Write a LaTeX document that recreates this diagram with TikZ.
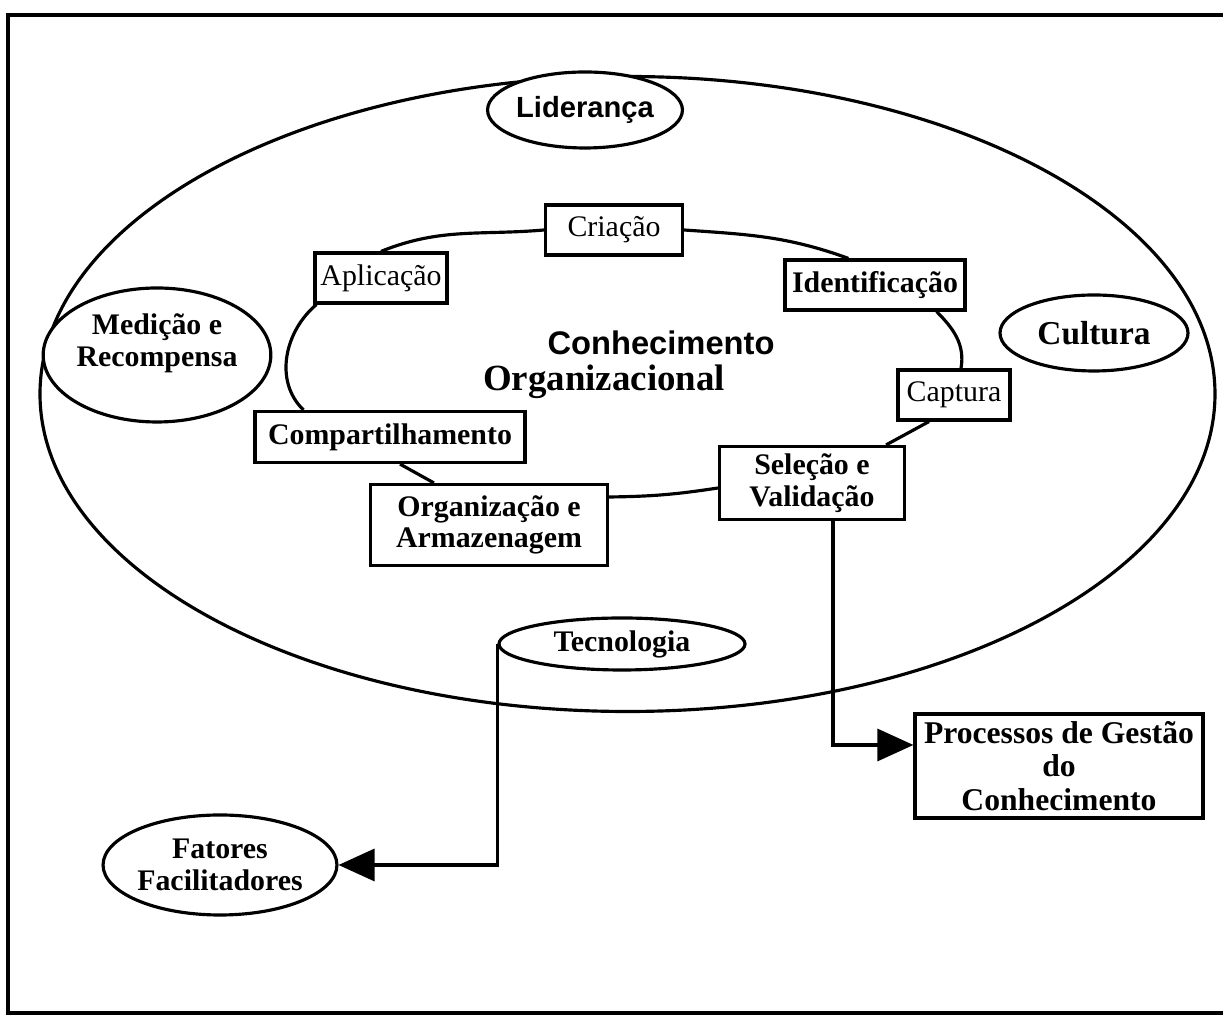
\documentclass[tikz,border=0pt]{standalone}
\usepackage{fontspec}
\setmainfont{Liberation Serif}
\setsansfont{Liberation Sans}
\usetikzlibrary{arrows.meta,shapes.geometric}

\begin{document}
\begin{tikzpicture}[>={Triangle[length=3.6mm,width=3.2mm]},
    linha/.style={line width=0.9pt},
    caixa/.style={draw,line width=0.9pt,fill=white,inner sep=1pt,align=center,
        font=\fontsize{8.5}{9}\selectfont},
    caixan/.style={caixa,font=\fontsize{8.5}{9}\selectfont\bfseries},
    elipse/.style={draw,ellipse,line width=0.9pt,fill=white,inner sep=0pt,align=center,
        font=\fontsize{8.5}{9}\selectfont\bfseries}]
        \useasboundingbox (0,0) rectangle (12.23,10.19);
        % moldura
        \draw[line width=1pt] (12.4,10.04) -- (0.08,10.04) -- (0.08,0.06) -- (12.4,0.06);
        % elipse grande
        \draw[linha] (6.275,6.25) ellipse (5.875 and 3.175);
        % fatores facilitadores
        \node[elipse,font=\fontsize{8.3}{9}\sffamily\bfseries,minimum width=1.92cm,minimum height=0.76cm] (lid) at (5.85,9.09) {Liderança};
        \node[elipse,font=\fontsize{9.5}{10}\selectfont\bfseries,minimum width=1.88cm,minimum height=0.76cm] (cul) at (10.94,6.86) {Cultura};
        \node[elipse,text depth=0.3cm,minimum width=2.26cm,minimum height=1.34cm] (med) at (1.57,6.64) {Medição e\\Recompensa};
        \node[elipse,minimum width=2.46cm,minimum height=0.52cm] (tec) at (6.22,3.75) {Tecnologia};
        \node[elipse,minimum width=2.30cm,minimum height=1.00cm] (fat) at (2.20,1.54) {Fatores\\Facilitadores};
        % processos
        \node[caixa,minimum width=1.37cm,minimum height=0.50cm] (cri) at (6.14,7.89) {Criação};
        \node[caixa,minimum width=1.32cm,minimum height=0.50cm] (apl) at (3.81,7.41) {Aplicação};
        \node[caixan,minimum width=1.80cm,minimum height=0.50cm] (idf) at (8.75,7.34) {Identificação};
        \node[caixa,minimum width=1.12cm,minimum height=0.50cm] (cap) at (9.54,6.24) {Captura};
        \node[caixan,minimum width=2.70cm,minimum height=0.51cm] (cmp) at (3.90,5.82) {Compartilhamento};
        \node[caixan,minimum width=1.85cm,minimum height=0.73cm] (sel) at (8.12,5.36) {Seleção e\\Validação};
        \node[caixan,minimum width=2.37cm,minimum height=0.81cm] (org) at (4.89,4.94) {Organização e\\Armazenagem};
        \node[caixan,font=\fontsize{9}{9.5}\selectfont\bfseries,minimum width=2.88cm,minimum height=1.04cm] (pgd) at (10.59,2.53) {Processos de Gestão\\do\\Conhecimento};
        % titulo central
        \node[font=\fontsize{9.3}{10}\sffamily\bfseries] (tit1) at (6.61,6.76) {Conhecimento};
        \node[font=\fontsize{10.5}{11}\selectfont\bfseries] (tit2) at (6.04,6.37) {Organizacional};
        % ciclo
        \draw[linha] (apl.north) to[out=22,in=185] (cri.west);
        \draw[linha] (cri.east) to[out=-4,in=160] ([xshift=0.65cm]idf.north west);
        \draw[linha] ([xshift=-0.3cm]idf.south east) to[out=-45,in=80] ([xshift=0.07cm]cap.north);
        \draw[linha] ([xshift=-0.25cm]cap.south) -- ([xshift=-0.2cm]sel.north east);
        \draw[linha] ([yshift=-0.05cm]sel.west) to[bend left=4] ([yshift=0.28cm]org.east);
        \draw[linha] ([xshift=0.1cm]cmp.south) -- ([xshift=0.65cm]org.north west);
        \draw[linha] ([xshift=0.5cm]cmp.north west) to[out=136,in=220] ([xshift=0.03cm]apl.south west);
        % setas
        \draw[linha,->] ([xshift=0.21cm]sel.south) |- ([yshift=0.21cm]pgd.west);
        \draw[linha,->] (tec.west) |- (fat.east);
    \end{tikzpicture}
\end{document}
